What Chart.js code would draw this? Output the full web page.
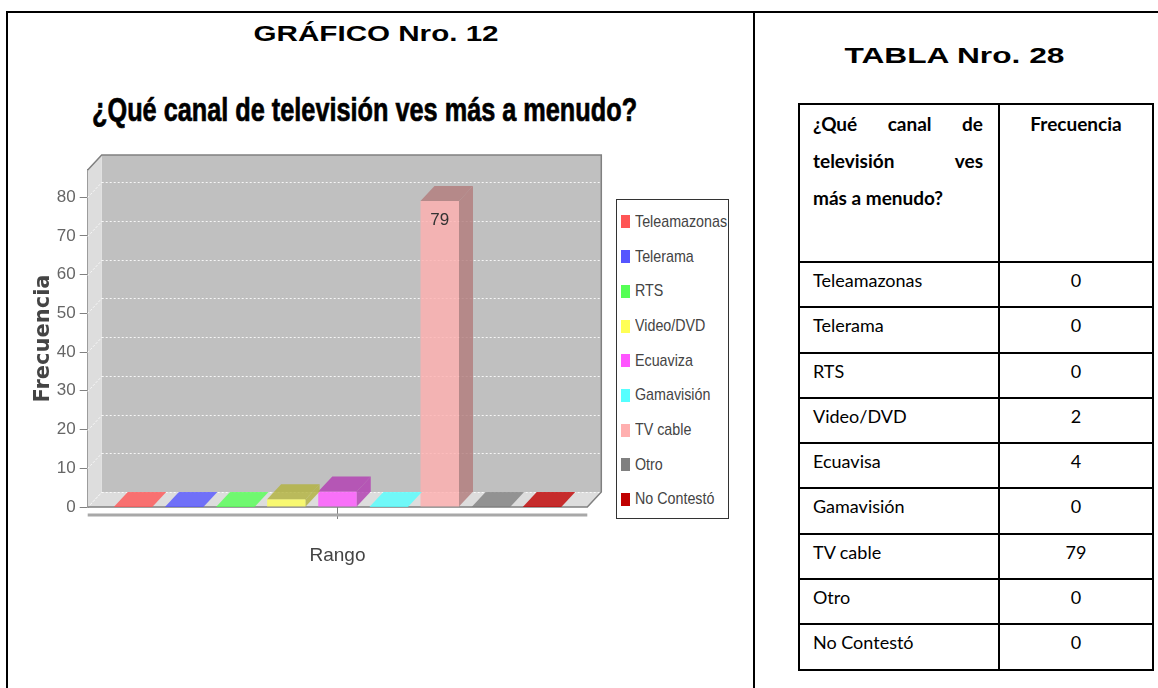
<!DOCTYPE html>
<html lang="es">
<head>
<meta charset="utf-8">
<title>Gráfico Nro. 12</title>
<script src="https://cdn.jsdelivr.net/npm/chart.js@4.4.1/dist/chart.umd.min.js"></script>
<style>
  html, body { margin: 0; padding: 0; background: #fff; }
  body { width: 1158px; height: 688px; position: relative; overflow: hidden; font-family: "Liberation Sans", Arial, sans-serif; }
  .frame { position: absolute; left: 6px; top: 11px; width: 1200px; height: 720px; border: 2px solid #000; box-sizing: border-box; }
  .divider { position: absolute; left: 753px; top: 11px; width: 2px; height: 720px; background: #000; }
  .heading { position: absolute; width: 900px; display: flex; justify-content: center; white-space: nowrap; }
  .heading span { display: inline-block; flex: none; transform-origin: center; color: #000; }
  .h-small span { font-weight: bold; font-size: 22px; line-height: 22px; }
  .h-chart span { font-weight: bold; font-size: 34px; line-height: 34px; -webkit-text-stroke: 0.7px #000; }
  #chart { position: absolute; left: 8px; top: 140px; }
  #legend { position: absolute; left: 616px; top: 199px; width: 113px; height: 320px; border: 1px solid #333; box-sizing: border-box; padding-top: 4.6px; background: #fff; overflow: hidden; }
  #legend .item { display: flex; align-items: center; height: 34.7px; padding-left: 3.5px; font-size: 17px; color: #444; white-space: nowrap; }
  #legend .sw { display: inline-block; flex: none; width: 9px; height: 13px; margin-right: 5px; }
  #legend .txt { display: inline-block; transform: scaleX(0.84); transform-origin: left center; }
  #tbl { position: absolute; left: 798px; top: 103px; border-collapse: collapse; table-layout: fixed; font-family: Lato, "Noto Sans", sans-serif; font-size: 18px; color: #000; }
  #tbl td, #tbl th { border: 2px solid #000; vertical-align: top; padding: 0; }
  #tbl thead tr { height: 158px; }
  #tbl thead th { font-weight: bold; font-size: 19px; line-height: 37px; }
  #tbl th.q { padding: 0 15px 0 13px; text-align: left; }
  #tbl th.q .line { display: flex; justify-content: space-between; }
  #tbl tbody tr { height: 45.3px; }
  #tbl tbody td { padding-top: 7px; line-height: 20px; }
  #tbl tbody td.name { padding-left: 13px; }
  #tbl tbody td.val { text-align: center; }
</style>
</head>
<body>
<div class="frame"></div>
<div class="divider"></div>

<div class="heading h-small" style="left:-73.5px; top:23px;"><span id="hGraf">GRÁFICO Nro. 12</span></div>
<div class="heading h-chart" style="left:-85.5px; top:92px;"><span id="hTitle">¿Qué canal de televisión ves más a menudo?</span></div>
<div class="heading h-small" style="left:504px; top:45px;"><span id="hTabla">TABLA Nro. 28</span></div>

<canvas id="chart" width="746" height="437"></canvas>
<div id="legend"></div>

<table id="tbl">
  <colgroup><col style="width:200px"><col style="width:154px"></colgroup>
  <thead>
    <tr>
      <th class="q">
        <div class="line"><span>¿Qué</span><span>canal</span><span>de</span></div>
        <div class="line"><span>televisión</span><span>ves</span></div>
        <div>más a menudo?</div>
      </th>
      <th>Frecuencia</th>
    </tr>
  </thead>
  <tbody id="tbody"></tbody>
</table>

<script>
// chart data
const categories = ['Rango'];
const seriesNames = ['Teleamazonas', 'Telerama', 'RTS', 'Video/DVD', 'Ecuaviza', 'Gamavisión', 'TV cable', 'Otro', 'No Contestó'];
const seriesValues = [0, 0, 0, 2, 4, 0, 79, 0, 0];
const yTicks = [0, 10, 20, 30, 40, 50, 60, 70, 80];

// table data
const tableLabels = ['Teleamazonas', 'Telerama', 'RTS', 'Video/DVD', 'Ecuavisa', 'Gamavisión', 'TV cable', 'Otro', 'No Contestó'];
const tableValues = [0, 0, 0, 2, 4, 0, 79, 0, 0];

// JFreeChart-like default series paints
const seriesColors = [[255, 85, 85], [85, 85, 255], [85, 255, 85], [255, 255, 85], [255, 85, 255], [85, 255, 255], [255, 175, 175], [128, 128, 128], [192, 0, 0]];

const SANS = "'Liberation Sans', Arial, sans-serif";
const ALPHA = 0.8;
const depth = { dx: 14, dy: 15 };

function rgba(c, a) {
  return `rgba(${c[0]}, ${c[1]}, ${c[2]}, ${a})`;
}

function darker(c) {
  return c.map(v => Math.floor(v * 0.7));
}

/** Fills a polygon from a list of [x, y] points */
function poly(ctx, pts, fill) {
  ctx.beginPath();
  ctx.moveTo(pts[0][0], pts[0][1]);
  pts.slice(1).forEach(p => ctx.lineTo(p[0], p[1]));
  ctx.closePath();
  ctx.fillStyle = fill;
  ctx.fill();
}

function line(ctx, x1, y1, x2, y2) {
  ctx.beginPath();
  ctx.moveTo(x1, y1);
  ctx.lineTo(x2, y2);
  ctx.stroke();
}

/** Draws the 3D walls, floor and back gridlines, then the extra bar faces */
const box3d = {
  id: 'box3d',
  beforeDatasetsDraw(chart) {
    const { ctx, chartArea: a, scales: { y } } = chart;
    const { dx, dy } = depth;
    ctx.save();
    ctx.fillStyle = '#c0c0c0';
    ctx.fillRect(a.left + dx, a.top - dy, a.right - a.left, a.bottom - a.top);
    poly(ctx, [[a.left, a.top], [a.left + dx, a.top - dy], [a.left + dx, a.bottom - dy], [a.left, a.bottom]], '#dddddd');
    poly(ctx, [[a.left, a.bottom], [a.left + dx, a.bottom - dy], [a.right + dx, a.bottom - dy], [a.right, a.bottom]], '#dddddd');

    // dotted gridlines on the back wall
    ctx.strokeStyle = 'rgba(255, 255, 255, 0.85)';
    ctx.lineWidth = 1;
    ctx.setLineDash([2, 2]);
    y.ticks.forEach(t => {
      const py = Math.round(y.getPixelForValue(t.value) - dy) + 0.5;
      line(ctx, a.left + dx, py, a.right + dx, py);
      line(ctx, a.left, py + dy, a.left + dx, py);
    });
    ctx.setLineDash([]);

    // outline of the box
    ctx.strokeStyle = '#808080';
    ctx.lineWidth = 1.5;
    ctx.beginPath();
    ctx.moveTo(a.left, a.top);
    ctx.lineTo(a.left + dx, a.top - dy);
    ctx.lineTo(a.right + dx, a.top - dy);
    ctx.lineTo(a.right + dx, a.bottom - dy);
    ctx.lineTo(a.right, a.bottom);
    ctx.lineTo(a.left, a.bottom);
    ctx.stroke();

    // category axis line under the floor
    ctx.fillStyle = '#a8a8a8';
    ctx.fillRect(a.left, a.bottom + 6.5, a.right - a.left, 3);
    ctx.restore();
  },
  afterDatasetDraw(chart, args) {
    const { ctx } = chart;
    const { dx, dy } = depth;
    const i = args.index;
    const value = chart.data.datasets[i].data[0];
    const bar = args.meta.data[0];
    const { x, y, base, width } = bar.getProps(['x', 'y', 'base', 'width'], true);
    const left = x - width / 2;
    const right = x + width / 2;
    const c = seriesColors[i];
    ctx.save();
    const faceColor = value > 0 ? rgba(darker(c), ALPHA) : rgba(c, ALPHA);
    poly(ctx, [[left, y], [left + dx, y - dy], [right + dx, y - dy], [right, y]], faceColor);
    if (value > 0) {
      poly(ctx, [[right, y], [right + dx, y - dy], [right + dx, base - dy], [right, base]], faceColor);
    }
    if (value >= 10) {
      ctx.fillStyle = '#333';
      ctx.font = `17px ${SANS}`;
      ctx.textAlign = 'center';
      ctx.textBaseline = 'middle';
      ctx.fillText(String(value), x, y + 19);
    }
    ctx.restore();
  }
};

const datasets = seriesNames.map((name, i) => ({
  label: name,
  data: [seriesValues[i]],
  backgroundColor: rgba(seriesColors[i], ALPHA),
  borderWidth: 0,
  categoryPercentage: 0.921,
  barPercentage: 0.753
}));

const chart = new Chart(document.getElementById('chart'), {
  type: 'bar',
  data: { labels: categories, datasets },
  options: {
    responsive: false,
    animation: false,
    events: [],
    layout: { padding: { left: 16, top: 30, right: 166.7, bottom: 0 } },
    plugins: {
      legend: { display: false },
      tooltip: { enabled: false }
    },
    scales: {
      x: {
        offset: true,
        grid: { offset: false, drawOnChartArea: false, drawTicks: true, tickLength: 12, color: '#808080' },
        border: { display: false },
        ticks: { display: false },
        title: { display: true, text: 'Rango', color: '#444', font: { family: SANS, size: 19 }, padding: { top: 0, bottom: 10 } },
        afterFit(scale) { scale.height = 70; }
      },
      y: {
        min: 0,
        max: 87,
        afterBuildTicks(scale) { scale.ticks = yTicks.map(v => ({ value: v })); },
        grid: { drawOnChartArea: false, tickLength: 8, color: '#808080' },
        border: { display: true, color: '#808080', width: 1.5 },
        ticks: { color: '#666', font: { family: SANS, size: 17 }, padding: 4 },
        title: { display: true, text: 'Frecuencia', color: '#444', font: { family: "'DejaVu Sans', sans-serif", weight: 'bold', size: 21 }, padding: { top: 7 } },
        afterFit(scale) { scale.width = 63.7; }
      }
    }
  },
  plugins: [box3d]
});

/** Builds the HTML legend from the chart's datasets */
function buildLegend(chart) {
  const box = document.getElementById('legend');
  chart.data.datasets.forEach((ds, i) => {
    const item = document.createElement('div');
    item.className = 'item';
    item.innerHTML = `<span class="sw" style="background:${rgba(seriesColors[i], 1)}"></span><span class="txt">${ds.label}</span>`;
    box.appendChild(item);
  });
}

/** Fills the frequency table */
function buildTable() {
  const tbody = document.getElementById('tbody');
  tableLabels.forEach((label, i) => {
    const row = tbody.insertRow();
    const name = row.insertCell();
    name.className = 'name';
    name.innerText = label;
    const val = row.insertCell();
    val.className = 'val';
    val.innerText = tableValues[i];
  });
}

/** Stretches a heading horizontally to the width it has in the original */
function fitText(id, targetWidth) {
  const el = document.getElementById(id);
  const w = el.getBoundingClientRect().width;
  el.style.transform = `scaleX(${targetWidth / w})`;
}

buildLegend(chart);
buildTable();
fitText('hGraf', 245);
fitText('hTabla', 220);
fitText('hTitle', 545);
</script>
</body>
</html>
